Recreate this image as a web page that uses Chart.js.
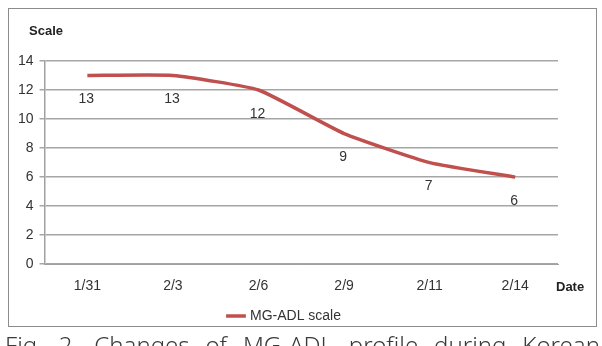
<!DOCTYPE html>
<html>
<head>
    <script src="https://cdn.jsdelivr.net/npm/chart.js"></script>
    <style>
        body { margin: 0; background: white; width: 602px; height: 346px; overflow: hidden; position: relative; font-family: "Liberation Sans", Arial, sans-serif; }
        #wrap { position: absolute; left: 0; top: 0; width: 602px; height: 340px; }
        .frame { position: absolute; left: 8px; top: 8px; width: 587px; height: 317px; border: 1.5px solid #8c8c8c; pointer-events: none; }
        .caption { position: absolute; left: 5px; top: 333px; width: 595px; font-size: 24px; line-height: 24px; color: #3a3a3a; white-space: nowrap; text-align: justify; text-align-last: justify; font-family: "Noto Sans", sans-serif; font-weight: 300; }
    </style>
</head>
<body>
    <div id="wrap"><canvas id="myChart" width="602" height="340"></canvas></div>
    <div class="frame"></div>
    <div class="caption">Fig. 2. Changes of MG-ADL profile during Korean</div>

    <script>
        const dates = ['1/31', '2/3', '2/6', '2/9', '2/11', '2/14'];
        const mgAdl = [13, 13, 12, 9, 7, 6];
        const yTicks = [0, 2, 4, 6, 8, 10, 12, 14];

        const lineColor = '#c0504d';
        const textColor = '#333333';
        const fontFamily = '"Liberation Sans", Arial, sans-serif';

        // axis captions and value labels (no datalabels plugin available offline)
        const extras = {
            id: 'extras',
            afterDatasetsDraw(chart) {
                const ctx = chart.ctx;
                const area = chart.chartArea;
                ctx.save();
                ctx.fillStyle = '#222';
                ctx.font = 'bold 13px ' + fontFamily;
                ctx.textBaseline = 'middle';
                ctx.textAlign = 'left';
                ctx.fillText('Scale', 29, 31);
                ctx.fillText('Date', area.right - 2, area.bottom + 23);

                ctx.font = '14px ' + fontFamily;
                ctx.fillStyle = textColor;
                ctx.textAlign = 'center';
                const meta = chart.getDatasetMeta(0);
                meta.data.forEach((pt, i) => {
                    ctx.fillText(String(mgAdl[i]), pt.x - 1, pt.y + 24);
                });
                ctx.restore();
            }
        };

        new Chart('myChart', {
            type: 'line',
            data: {
                labels: dates,
                datasets: [{
                    label: 'MG-ADL scale',
                    data: mgAdl,
                    borderColor: lineColor,
                    backgroundColor: lineColor,
                    borderWidth: 3.5,
                    pointRadius: 0,
                    tension: 0.15,
                    fill: false
                }]
            },
            options: {
                responsive: false,
                animation: false,
                layout: { padding: { left: 12, right: 44, top: 61, bottom: 7 } },
                plugins: {
                    legend: {
                        position: 'bottom',
                        labels: {
                            usePointStyle: true,
                            pointStyle: 'line',
                            boxWidth: 36,
                            color: textColor,
                            font: { size: 14, family: fontFamily },
                            padding: 0
                        }
                    },
                    tooltip: { enabled: false }
                },
                scales: {
                    x: {
                        offset: true,
                        grid: { display: false, drawTicks: false },
                        border: { color: '#a0a0a0' },
                        ticks: { color: textColor, padding: 14, font: { size: 14, family: fontFamily } }
                    },
                    y: {
                        min: 0,
                        max: 14,
                        afterBuildTicks: axis => { axis.ticks = yTicks.map(v => ({ value: v })); },
                        grid: { color: '#a6a6a6', lineWidth: 1.5, tickLength: 5 },
                        border: { color: '#a0a0a0', width: 1.5 },
                        ticks: { color: textColor, padding: 6, font: { size: 14, family: fontFamily } }
                    }
                }
            },
            plugins: [extras]
        });
    </script>
</body>
</html>
